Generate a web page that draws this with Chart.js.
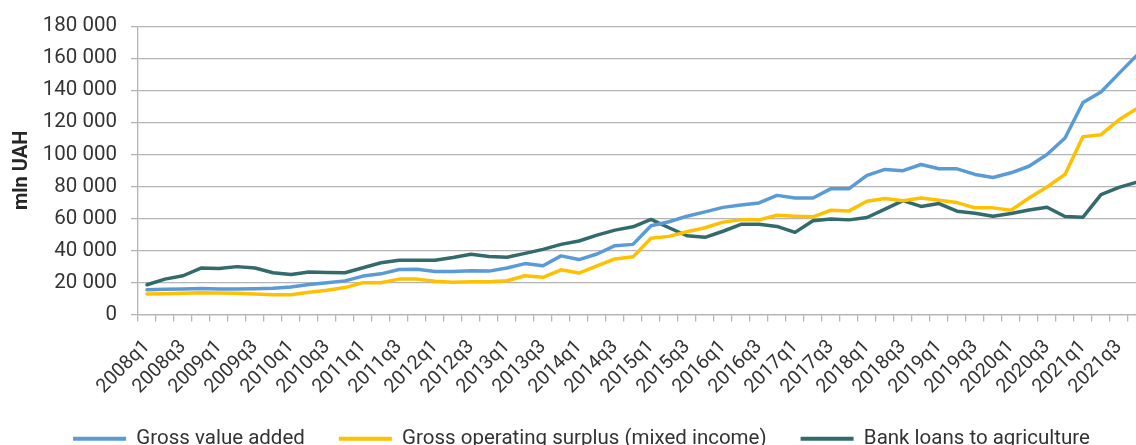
<!DOCTYPE html>
<html><head><meta charset="utf-8">
<script src="https://cdn.jsdelivr.net/npm/chart.js@4"></script>
<style>
html,body{margin:0;padding:0;overflow:hidden;background:#fff;width:1136px;height:445px}
#wrap{position:absolute;left:0;top:0;width:1146px;height:459px}
</style></head><body><div id="wrap"><canvas id="c"></canvas></div>
<script>
const quarters = [
  '2008q1','2008q2','2008q3','2008q4','2009q1','2009q2','2009q3','2009q4',
  '2010q1','2010q2','2010q3','2010q4','2011q1','2011q2','2011q3','2011q4',
  '2012q1','2012q2','2012q3','2012q4','2013q1','2013q2','2013q3','2013q4',
  '2014q1','2014q2','2014q3','2014q4','2015q1','2015q2','2015q3','2015q4',
  '2016q1','2016q2','2016q3','2016q4','2017q1','2017q2','2017q3','2017q4',
  '2018q1','2018q2','2018q3','2018q4','2019q1','2019q2','2019q3','2019q4',
  '2020q1','2020q2','2020q3','2020q4','2021q1','2021q2','2021q3','2021q4'
];
const grossValueAdded = [
  15500,15800,16000,16200,16000,15900,16100,16400,
  17200,18700,19800,21000,24000,25400,28100,28300,
  26800,26800,27300,27100,29000,31800,30400,36600,
  34300,37800,43000,43800,55400,57900,61400,64100,
  66900,68400,69700,74400,72800,72800,78600,78600,
  86900,90600,89800,93700,91000,91000,87500,85600,
  88500,92600,99900,110200,132400,139000,150600,162000
];
const grossOperatingSurplus = [
  12800,13000,13200,13600,13400,13200,12800,12400,
  12400,13900,15100,16800,19900,19900,22100,22100,
  20700,20100,20500,20500,21100,24200,23200,27900,
  25900,30400,34700,36000,47600,48800,51700,54200,
  57700,59100,59100,62000,61400,61000,65100,64700,
  70700,72400,71100,72800,71300,69900,66600,66600,
  65100,72800,79600,87500,111100,112300,121600,128600
];
const bankLoans = [
  18600,22100,24200,29000,28700,29900,29000,26100,
  25000,26500,26300,26100,29200,32300,33900,33900,
  33900,35600,37600,36200,35800,38200,40700,43800,
  45900,49600,52700,54800,59400,54200,49200,48200,
  52000,56300,56300,55000,51300,58500,59600,59100,
  60600,65800,71100,67500,69300,64500,63300,61400,
  63100,65300,67000,61200,60800,74900,79400,82700
];
const seriesNames = ['Gross value added','Gross operating surplus (mixed income)','Bank loans to agriculture'];
const seriesColors = ['#5B9BD5','#FFC000','#336B6C'];
const yTicks = [0,20000,40000,60000,80000,100000,120000,140000,160000,180000];
const yTitle = 'mln UAH';

const fmt = v => String(v).replace(/\B(?=(\d{3})+(?!\d))/g, ' ');
const gridCol = '#b4b4b4';
const textCol = '#333333';

const mk = (label, data, color) => ({
  label, data, borderColor: color, backgroundColor: color,
  borderWidth: 3.5, pointRadius: 0, tension: 0, fill: false,
  borderJoinStyle: 'round', borderCapStyle: 'round'
});

new Chart(document.getElementById('c'), {
  type: 'line',
  data: {
    labels: quarters,
    datasets: [
      mk(seriesNames[0], grossValueAdded, seriesColors[0]),
      mk(seriesNames[1], grossOperatingSurplus, seriesColors[1]),
      mk(seriesNames[2], bankLoans, seriesColors[2])
    ]
  },
  options: {
    responsive: true, maintainAspectRatio: false, animation: false, devicePixelRatio: 1,
    layout: { padding: { top: 23, left: 17, right: 0, bottom: 0 } },
    plugins: {
      tooltip: { enabled: false },
      legend: {
        position: 'bottom',
        labels: {
          font: { family: 'Roboto', size: 20.5 }, color: textCol,
          boxWidth: 53, boxHeight: 4, padding: 34,
          generateLabels(chart) {
            const items = Chart.defaults.plugins.legend.labels.generateLabels(chart);
            items.forEach(it => { it.lineWidth = 0; it.fillStyle = it.strokeStyle; });
            return items;
          }
        }
      }
    },
    scales: {
      x: {
        offset: true,
        grid: { display: true, drawOnChartArea: false, drawTicks: true, tickLength: 7, offset: true, color: gridCol, lineWidth: 1.3 },
        border: { display: true, color: gridCol, width: 1.3 },
        ticks: {
          autoSkip: false, maxRotation: 45, minRotation: 45, padding: 14,
          font: { family: 'Roboto', size: 19.5 }, color: textCol,
          callback: (v, i) => (i % 2 === 0 ? quarters[i] : '')
        },
        afterFit(scale) {
          scale.height = 80; scale.paddingLeft = 0; scale.paddingRight = 0;
          scale._computeLabelArea = () => undefined;
        }
      },
      y: {
        min: 0, max: 180000,
        afterBuildTicks(scale) { scale.ticks = yTicks.map(v => ({ value: v })); },
        grid: { color: gridCol, lineWidth: 1.3, tickLength: 7, drawTicks: true },
        border: { display: true, color: gridCol, width: 1.3 },
        ticks: { font: { family: 'Roboto', size: 20.5 }, color: textCol, padding: 14, callback: v => fmt(v) },
        title: { display: true, text: yTitle, font: { family: 'Roboto', size: 20, weight: 'bold' }, color: '#262626', padding: { top: -7, bottom: 0 } },
        afterFit(scale) {
          scale.width = 121;
          scale._computeLabelArea = () => undefined;
        }
      }
    }
  }
});
</script></body></html>
